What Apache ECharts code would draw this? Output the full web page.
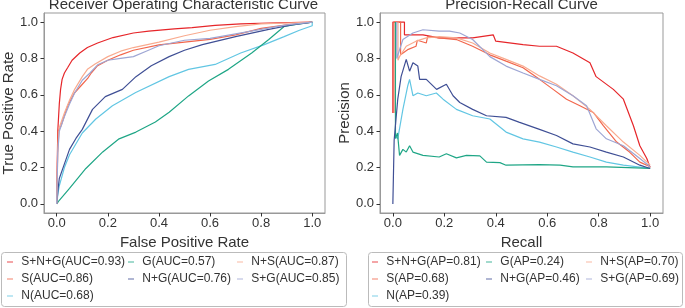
<!DOCTYPE html>
<html>
<head>
<meta charset="utf-8">
<script src="https://cdn.jsdelivr.net/npm/echarts@6/dist/echarts.min.js"></script>
<style>
  html, body { margin: 0; padding: 0; background: #fff; }
  #main { width: 685px; height: 308px; }
</style>
</head>
<body>
<div id="main"></div>
<script>
// tick labels shared by both panels
const tickVals = [0, 0.2, 0.4, 0.6, 0.8, 1.0]

// series names, in plotting order
const rocNames = ['S+N+G(AUC=0.93)', 'S(AUC=0.86)', 'N(AUC=0.68)', 'G(AUC=0.57)', 'N+G(AUC=0.76)', 'N+S(AUC=0.87)', 'S+G(AUC=0.85)']
const prNames = ['S+N+G(AP=0.81)', 'S(AP=0.68)', 'N(AP=0.39)', 'G(AP=0.24)', 'N+G(AP=0.46)', 'N+S(AP=0.70)', 'S+G(AP=0.69)']
const colors = ['#e6262a', '#f2664c', '#62c6e3', '#1fa686', '#3f4f95', '#f9ab8f', '#9ea6d4']

// ROC curves: [fpr, tpr]
const rocSNG = [[0, 0], [0.002, 0.22], [0.004, 0.4], [0.01, 0.55], [0.015, 0.63], [0.021, 0.685], [0.03, 0.72], [0.043, 0.75], [0.06, 0.79], [0.09, 0.83], [0.12, 0.86], [0.16, 0.885], [0.22, 0.915], [0.3, 0.94], [0.36, 0.95], [0.46, 0.963], [0.53, 0.97], [0.62, 0.982], [0.72, 0.99], [0.83, 0.995], [1, 1]]
const rocS = [[0, 0], [0.003, 0.25], [0.005, 0.4], [0.017, 0.43], [0.043, 0.54], [0.069, 0.61], [0.095, 0.65], [0.121, 0.69], [0.135, 0.72], [0.16, 0.76], [0.2, 0.79], [0.25, 0.82], [0.3, 0.845], [0.4, 0.875], [0.5, 0.89], [0.6, 0.905], [0.7, 0.93], [0.8, 0.965], [0.9, 0.985], [1, 1]]
const rocN = [[0, 0], [0.005, 0.06], [0.01, 0.1], [0.03, 0.2], [0.05, 0.27], [0.1, 0.39], [0.153, 0.467], [0.218, 0.54], [0.309, 0.613], [0.44, 0.7], [0.516, 0.74], [0.62, 0.767], [0.72, 0.83], [0.81, 0.875], [0.89, 0.92], [0.95, 0.955], [1, 0.98], [1, 1]]
const rocG = [[0, 0], [0.01, 0.02], [0.05, 0.085], [0.114, 0.195], [0.18, 0.286], [0.244, 0.358], [0.31, 0.395], [0.386, 0.45], [0.44, 0.504], [0.516, 0.594], [0.594, 0.676], [0.672, 0.74], [0.763, 0.83], [0.83, 0.904], [0.89, 0.976], [0.95, 0.99], [1, 1]]
const rocNG = [[0, 0], [0.005, 0.08], [0.01, 0.14], [0.03, 0.22], [0.05, 0.3], [0.075, 0.36], [0.1, 0.41], [0.14, 0.52], [0.19, 0.59], [0.257, 0.63], [0.31, 0.7], [0.37, 0.76], [0.44, 0.81], [0.5, 0.845], [0.57, 0.876], [0.7, 0.92], [0.83, 0.96], [0.92, 0.985], [1, 1]]
const rocNS = [[0, 0], [0.004, 0.3], [0.01, 0.42], [0.03, 0.5], [0.05, 0.57], [0.07, 0.63], [0.1, 0.7], [0.12, 0.74], [0.15, 0.77], [0.2, 0.81], [0.25, 0.84], [0.3, 0.86], [0.4, 0.89], [0.5, 0.925], [0.6, 0.955], [0.7, 0.975], [0.8, 0.99], [0.9, 0.995], [1, 1]]
const rocSG = [[0, 0], [0.004, 0.28], [0.01, 0.4], [0.03, 0.48], [0.05, 0.55], [0.07, 0.61], [0.1, 0.68], [0.13, 0.72], [0.16, 0.765], [0.2, 0.79], [0.25, 0.8], [0.3, 0.81], [0.35, 0.84], [0.4, 0.87], [0.5, 0.9], [0.6, 0.91], [0.7, 0.935], [0.8, 0.96], [0.9, 0.985], [1, 1]]

// PR curves: [recall, precision]
const prSNG = [[0, 0.5], [0, 1], [0.045, 1], [0.045, 0.93], [0.117, 0.93], [0.18, 0.913], [0.31, 0.913], [0.39, 0.93], [0.4, 0.895], [0.506, 0.876], [0.57, 0.867], [0.636, 0.867], [0.7, 0.83], [0.766, 0.776], [0.79, 0.7], [0.857, 0.63], [0.896, 0.576], [0.935, 0.43], [0.96, 0.32], [0.987, 0.25], [1, 0.2]]
const prS = [[0.004, 0.5], [0.004, 1], [0.03, 1], [0.03, 0.82], [0.06, 0.85], [0.09, 0.867], [0.095, 0.9], [0.13, 0.885], [0.135, 0.92], [0.18, 0.913], [0.247, 0.904], [0.31, 0.867], [0.377, 0.82], [0.44, 0.785], [0.506, 0.749], [0.57, 0.685], [0.623, 0.63], [0.675, 0.576], [0.727, 0.54], [0.779, 0.503], [0.818, 0.43], [0.87, 0.34], [0.92, 0.285], [0.96, 0.23], [1, 0.204]]
const prN = [[0.006, 0.38], [0.019, 0.358], [0.039, 0.52], [0.058, 0.65], [0.065, 0.685], [0.078, 0.595], [0.097, 0.61], [0.13, 0.595], [0.169, 0.61], [0.195, 0.576], [0.247, 0.52], [0.31, 0.485], [0.377, 0.467], [0.44, 0.395], [0.506, 0.358], [0.57, 0.34], [0.636, 0.313], [0.7, 0.285], [0.766, 0.258], [0.83, 0.23], [0.896, 0.213], [1, 0.195]]
const prG = [[0.01, 1], [0.01, 0.36], [0.018, 0.39], [0.026, 0.267], [0.039, 0.3], [0.052, 0.285], [0.065, 0.32], [0.078, 0.285], [0.117, 0.267], [0.18, 0.258], [0.208, 0.276], [0.247, 0.253], [0.286, 0.267], [0.338, 0.264], [0.364, 0.23], [0.416, 0.227], [0.44, 0.213], [0.57, 0.216], [0.65, 0.213], [0.7, 0.204], [0.83, 0.204], [1, 0.195]]
const prNG = [[0, 0], [0.005, 0.35], [0.019, 0.576], [0.032, 0.7], [0.052, 0.795], [0.065, 0.73], [0.078, 0.776], [0.097, 0.758], [0.104, 0.685], [0.13, 0.685], [0.17, 0.63], [0.208, 0.658], [0.234, 0.595], [0.26, 0.558], [0.31, 0.52], [0.364, 0.485], [0.44, 0.476], [0.49, 0.45], [0.57, 0.41], [0.636, 0.376], [0.7, 0.33], [0.766, 0.313], [0.83, 0.285], [0.896, 0.258], [0.96, 0.213], [1, 0.195]]
const prNS = [[0.02, 1], [0.02, 0.79], [0.026, 0.81], [0.052, 0.867], [0.09, 0.895], [0.13, 0.913], [0.18, 0.92], [0.247, 0.913], [0.31, 0.885], [0.377, 0.83], [0.44, 0.795], [0.506, 0.758], [0.57, 0.704], [0.636, 0.658], [0.7, 0.595], [0.766, 0.52], [0.83, 0.43], [0.896, 0.34], [0.96, 0.267], [1, 0.213]]
const prSG = [[0.015, 1], [0.015, 0.8], [0.02, 0.8], [0.039, 0.904], [0.078, 0.94], [0.117, 0.958], [0.18, 0.95], [0.22, 0.95], [0.26, 0.94], [0.31, 0.904], [0.377, 0.81], [0.44, 0.758], [0.506, 0.72], [0.57, 0.685], [0.636, 0.65], [0.7, 0.595], [0.753, 0.54], [0.79, 0.413], [0.83, 0.358], [0.896, 0.32], [0.96, 0.25], [1, 0.204]]

const rocData = [rocSNG, rocS, rocN, rocG, rocNG, rocNS, rocSG]
const prData = [prSNG, prS, prN, prG, prNG, prNS, prSG]

const font = "'Liberation Sans', Arial, sans-serif"
const textColor = '#333'

function makeAxis(idx, name, gap, isY) {
  return {
    type: 'value',
    gridIndex: idx,
    min: -0.05,
    max: 1.05,
    name: name,
    nameLocation: 'middle',
    nameGap: gap,
    nameTextStyle: { fontSize: 15, color: textColor, fontFamily: font },
    axisLine: { show: true, onZero: false, lineStyle: { color: '#999' } },
    axisTick: { show: true, length: 3.5, customValues: tickVals, lineStyle: { color: '#333' } },
    axisLabel: {
      customValues: tickVals,
      margin: isY ? 6 : 4,
      fontSize: 13,
      color: textColor,
      fontFamily: font,
      formatter: v => v.toFixed(1)
    },
    splitLine: { show: false }
  }
}

// one legend per column, matplotlib style (ncol=3)
function makeLegend(names, left) {
  return {
    orient: 'vertical',
    left: left,
    top: 255,
    padding: 0,
    itemGap: 3,
    itemWidth: 6,
    itemHeight: 1.5,
    icon: 'rect',
    itemStyle: { opacity: 0.55 },
    formatter: n => ' ' + n,
    textStyle: { fontSize: 12, lineHeight: 14, color: textColor, fontFamily: font },
    data: names
  }
}

const series = []
rocData.forEach((d, i) => {
  series.push({
    name: rocNames[i], type: 'line', xAxisIndex: 0, yAxisIndex: 0,
    data: d, showSymbol: false, color: colors[i],
    lineStyle: { width: 1.2 }
  })
})
prData.forEach((d, i) => {
  series.push({
    name: prNames[i], type: 'line', xAxisIndex: 1, yAxisIndex: 1,
    data: d, showSymbol: false, color: colors[i],
    lineStyle: { width: 1.2 }
  })
})

const chart = echarts.init(document.getElementById('main'))
chart.setOption({
  animation: false,
  backgroundColor: '#fff',
  textStyle: { fontFamily: font },
  grid: [
    { left: 42, top: 13, width: 283, height: 200, show: true, borderColor: '#999', borderWidth: 1 },
    { left: 380, top: 13, width: 283, height: 200, show: true, borderColor: '#999', borderWidth: 1 }
  ],
  xAxis: [
    makeAxis(0, 'False Positive Rate', 17, false),
    makeAxis(1, 'Recall', 17, false)
  ],
  yAxis: [
    makeAxis(0, 'True Positive Rate', 22, true),
    makeAxis(1, 'Precision', 20, true)
  ],
  legend: [
    makeLegend([rocNames[0], rocNames[1], rocNames[2]], 7),
    makeLegend([rocNames[3], rocNames[4]], 128),
    makeLegend([rocNames[5], rocNames[6]], 237),
    makeLegend([prNames[0], prNames[1], prNames[2]], 372),
    makeLegend([prNames[3], prNames[4]], 486),
    makeLegend([prNames[5], prNames[6]], 586)
  ],
  graphic: [
    { type: 'rect', z: -10, shape: { x: 1.5, y: 252.5, width: 345, height: 54, r: 3 }, style: { fill: '#fff', stroke: '#bbb', lineWidth: 1 } },
    { type: 'rect', z: -10, shape: { x: 368.5, y: 252.5, width: 314, height: 54, r: 3 }, style: { fill: '#fff', stroke: '#bbb', lineWidth: 1 } },
    { type: 'text', x: 183.5, y: 5, style: { text: 'Receiver Operating Characteristic Curve', font: '15px ' + font, fill: textColor, textAlign: 'center', textVerticalAlign: 'middle' } },
    { type: 'text', x: 521.5, y: 5, style: { text: 'Precision-Recall Curve', font: '15px ' + font, fill: textColor, textAlign: 'center', textVerticalAlign: 'middle' } }
  ],
  series: series
})
</script>
</body>
</html>
